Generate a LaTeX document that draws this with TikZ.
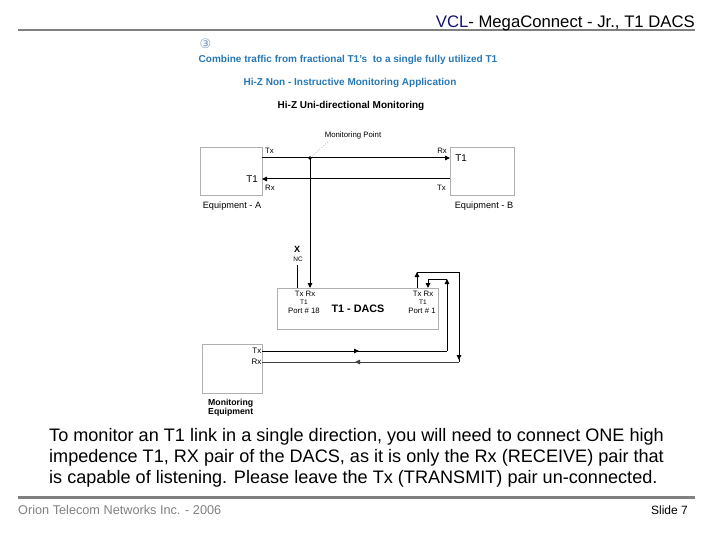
\documentclass[tikz,border=0pt]{standalone}
\usepackage{fontspec}
\setmainfont{Liberation Sans}
\newfontfamily\symfont{DejaVu Sans}
\usetikzlibrary{arrows.meta}
\definecolor{headblue}{RGB}{40,120,180}
\definecolor{circblue}{RGB}{110,150,190}
\definecolor{vclblue}{RGB}{20,20,110}
\definecolor{rulegray}{RGB}{128,128,128}
\definecolor{boxgray}{RGB}{175,175,175}
\tikzset{
  box/.style={draw=boxgray, line width=0.9pt, inner sep=0pt, fill=white},
  wire/.style={draw=black, line width=1pt},
  tip/.style={-{Triangle[length=5pt,width=4.5pt]}},
  lbl/.style={inner sep=0pt, font=\fontsize{7.8}{9}\selectfont},
  eqlbl/.style={inner sep=0pt, font=\fontsize{9.2}{11}\selectfont},
  head/.style={inner sep=0pt, font=\bfseries\fontsize{10}{12}\selectfont},
  body/.style={inner sep=0pt, anchor=base west, font=\fontsize{18.1}{21}\selectfont},
}
\begin{document}
\begin{tikzpicture}[x=1pt,y=-1pt]
\useasboundingbox (0,0) rectangle (720,540);
% header
\draw[rulegray, line width=2pt] (18,30) -- (695,30);
\node[inner sep=0pt, anchor=base east, font=\fontsize{16.7}{18}\selectfont] (title) at (695,27.5)
  {\textcolor{vclblue}{VCL}- MegaConnect - Jr., T1 DACS};
% footer
\draw[rulegray, line width=3pt] (18,497) -- (695,497);
\node[inner sep=0pt, anchor=base west, text=rulegray, font=\fontsize{12.7}{14}\selectfont] (org) at (18,514) {Orion Telecom Networks Inc. - 2006};
\node[inner sep=0pt, anchor=base east, font=\fontsize{12}{14}\selectfont] (slide) at (688,514) {Slide 7};
% headings
\node[inner sep=0pt, text=circblue, font=\symfont\fontsize{13}{14}\selectfont] (circ) at (205.5,44) {③};
\node[head, text=headblue] (h1) at (348,60) {Combine traffic from fractional T1's\ \ to a single fully utilized T1};
\node[head, text=headblue] (h2) at (350,83) {Hi-Z Non - Instructive Monitoring Application};
\node[head] (h3) at (351,106) {Hi-Z Uni-directional Monitoring};
% boxes
\node[box, minimum width=62pt, minimum height=48pt] (A) at (231,171) {};
\node[box, minimum width=64pt, minimum height=48pt] (B) at (482,171) {};
\node[box, minimum width=161pt, minimum height=41pt] (D) at (357.5,308.5) {};
\node[box, minimum width=60pt, minimum height=49pt] (M) at (232,368.5) {};
% coordinates
\coordinate (aTx) at (262,158);
\coordinate (bRx) at (450,158);
\coordinate (bTx) at (450,179);
\coordinate (aRx) at (262,179);
\coordinate (mp) at (310,158);
\coordinate (dRx18) at (310,288);
\coordinate (nc) at (297,265);
\coordinate (dTx18) at (297,288);
\coordinate (dTx1) at (417,288);
\coordinate (dRx1) at (428,288);
\coordinate (o1) at (417,272);
\coordinate (o2) at (459,272);
\coordinate (o3) at (459,362);
\coordinate (mRx) at (262,362);
\coordinate (mTx) at (262,351);
\coordinate (i1) at (447,351);
\coordinate (i2) at (447,279);
\coordinate (i3) at (428,279);
\coordinate (mpl) at (329,141);
% T1 link
\draw[wire, tip] (aTx) -- (bRx);
\draw[wire, tip] (bTx) -- (aRx);
\draw[wire, tip] (mp) -- (dRx18);
\fill (mp) circle (1.9pt);
\draw[gray, dotted, line width=0.6pt] (mp) -- (mpl);
\node[lbl, anchor=base] (mptxt) at (353,138) {Monitoring Point};
% NC
\draw[wire] (nc) -- (dTx18);
\node[inner sep=0pt, font=\bfseries\fontsize{9}{10}\selectfont] (X) at (297,249) {X};
\node[inner sep=0pt, font=\fontsize{6.5}{7}\selectfont] (NC) at (298,259) {NC};
% outer loop: DACS Tx port 1 -> monitoring Rx
\draw[wire, tip] (dTx1) -- (o1);
\draw[wire] (o1) -- (o2) -- (o3);
\draw[wire, tip] (459,330) -- (459,360);
\draw[wire, draw=black!75] (o3) -- (mRx);
\draw[wire, draw=black!75, tip] (400,362) -- (355,362);
% inner loop: monitoring Tx -> DACS Rx port 1
\draw[wire] (mTx) -- (i1);
\draw[wire, tip] (300,351) -- (359,351);
\draw[wire, tip] (i1) -- (i2);
\draw[wire] (i2) -- (i3);
\draw[wire, tip] (i3) -- (dRx1);
% labels around equipment A / B
\node[lbl, anchor=base west] (l1) at (265,153.5) {Tx};
\node[lbl, anchor=base west] (l2) at (265,190.5) {Rx};
\node[lbl, anchor=base east] (l3) at (447,153.5) {Rx};
\node[lbl, anchor=base east] (l4) at (446,190.5) {Tx};
\node[inner sep=0pt, font=\fontsize{9.8}{11}\selectfont] (t1a) at (252,179) {T1};
\node[inner sep=0pt, font=\fontsize{9.8}{11}\selectfont] (t1b) at (461,158) {T1};
\node[eqlbl] (eqa) at (232,206) {Equipment - A};
\node[eqlbl] (eqb) at (484,206) {Equipment - B};
% DACS labels
\node[lbl] (d1) at (305,294) {Tx\ Rx};
\node[inner sep=0pt, font=\fontsize{6.5}{7}\selectfont] (d2) at (304,302) {T1};
\node[lbl] (d3) at (304,311) {Port \# 18};
\node[lbl] (d4) at (423,294) {Tx\ Rx};
\node[inner sep=0pt, font=\fontsize{6.5}{7}\selectfont] (d5) at (423,302) {T1};
\node[lbl] (d6) at (422,311) {Port \# 1};
\node[inner sep=0pt, font=\bfseries\fontsize{10.8}{12}\selectfont] (dacs) at (358,309) {T1 - DACS};
% monitoring equipment labels
\node[inner sep=0pt, anchor=east, font=\fontsize{8}{9}\selectfont] (mt) at (261.5,351) {Tx};
\node[inner sep=0pt, anchor=east, font=\fontsize{8}{9}\selectfont] (mr) at (261.5,362) {Rx};
\node[inner sep=0pt, anchor=west, font=\bfseries\fontsize{8.7}{10}\selectfont] (me1) at (208,403) {Monitoring};
\node[inner sep=0pt, anchor=west, font=\bfseries\fontsize{8.7}{10}\selectfont] (me2) at (208,412.5) {Equipment};
% body text
\node[body] (b1) at (49,441) {To monitor an T1 link in a single direction, you will need to connect ONE high};
\node[body] (b2) at (49,462) {impedence T1, RX pair of the DACS, as it is only the Rx (RECEIVE) pair that};
\node[body] (b3) at (49,483) {is capable of listening. Please leave the Tx (TRANSMIT) pair un-connected.};
\end{tikzpicture}
\end{document}
